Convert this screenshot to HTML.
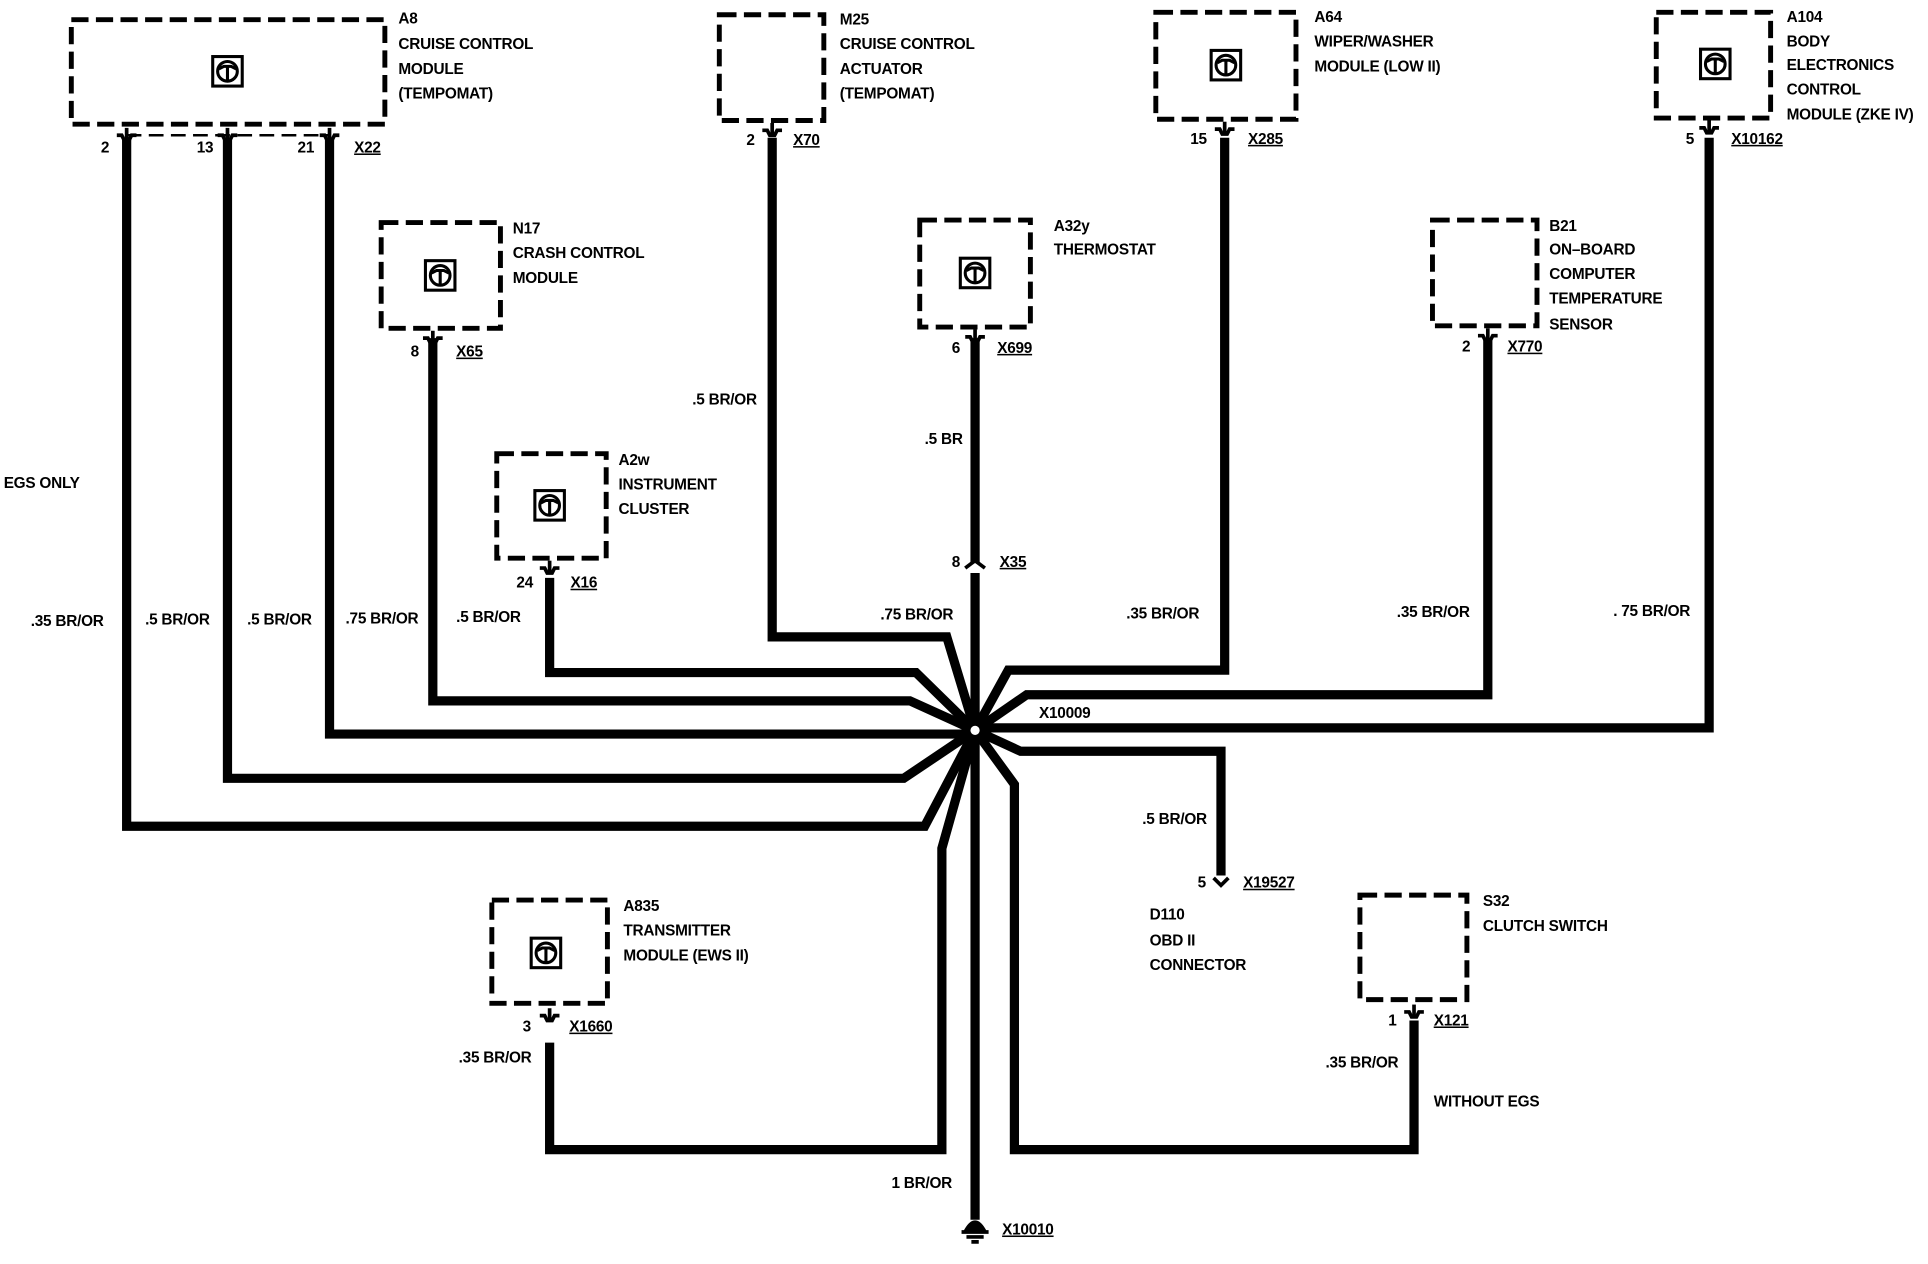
<!DOCTYPE html>
<html><head><meta charset="utf-8"><style>
html,body{margin:0;padding:0;background:#fff;}
svg{display:block;}
text{font-family:"Liberation Sans",Arial,sans-serif;font-size:12.5px;fill:#000;font-weight:bold;letter-spacing:-0.2px;}
</style></head><body>
<svg width="1928" height="1264" viewBox="0 0 1568 1028" preserveAspectRatio="none" xmlns="http://www.w3.org/2000/svg">
<defs>
<g id="ic"><rect x="-12" y="-12" width="24" height="24" fill="none" stroke="#000" stroke-width="2.5"/><circle cx="0" cy="0" r="8" fill="none" stroke="#000" stroke-width="2.5"/><path d="M-7,-2 L-3,-4 L3,-4 L7,-2 M0,-4 L0,8" stroke="#000" stroke-width="2.5" fill="none"/></g>
<g id="pin"><path d="M-8,0 L-4,0 L-2,4 L2,4 L4,0 L8,0" stroke="#000" stroke-width="3" fill="none"/><path d="M0,-6 L0,4" stroke="#000" stroke-width="3"/></g>
</defs>
<g fill="none" stroke="#000" stroke-width="4" stroke-dasharray="14,6">
<rect x="58" y="16" width="255" height="85"/>
<rect x="585" y="12" width="85" height="86"/>
<rect x="940" y="10" width="114" height="87"/>
<rect x="1347" y="10" width="93" height="86"/>
<rect x="310" y="181" width="97" height="86"/>
<rect x="748" y="179" width="90" height="87"/>
<rect x="1165" y="179" width="85" height="86"/>
<rect x="404" y="369" width="89" height="85"/>
<rect x="400" y="732" width="94" height="84"/>
<rect x="1106" y="728" width="87" height="85"/>
</g>
<path d="M103,110 H268" stroke="#000" stroke-width="2" stroke-dasharray="12,6"/>
<use href="#ic" x="185" y="58"/><use href="#ic" x="997" y="53"/><use href="#ic" x="1395" y="52"/>
<use href="#ic" x="358" y="224"/><use href="#ic" x="793" y="222"/><use href="#ic" x="447" y="411"/><use href="#ic" x="444" y="775"/>
<g fill="none" stroke="#000" stroke-width="7.5" stroke-linejoin="miter">
<path d="M103,112 V672 H752 L793,594"/>
<path d="M185,112 V633 H735 L793,594"/>
<path d="M268,112 V597 H793"/>
<path d="M352,275 V570 H740 L793,594"/>
<path d="M447,470 V547 H745 L793,594"/>
<path d="M628,112 V518 H770 L793,594"/>
<path d="M793,275 V458 M793,466 V992"/>
<path d="M996,112 V545 H820 L793,594"/>
<path d="M1210,275 V565 H835 L793,594"/>
<path d="M1390,112 V592 H793"/>
<path d="M793,594 L830,611 H993 V712"/>
<path d="M793,594 L825,638 V935 H1150 V830"/>
<path d="M793,594 L766,690 V935 H447 V848"/>
</g>
<circle cx="793" cy="594" r="5" fill="#fff" stroke="#000" stroke-width="2.5"/>
<g>
<use href="#pin" x="103" y="110"/><use href="#pin" x="185" y="110"/><use href="#pin" x="268" y="110"/>
<use href="#pin" x="628" y="106"/><use href="#pin" x="996" y="105"/><use href="#pin" x="1390" y="104"/>
<use href="#pin" x="352" y="275"/><use href="#pin" x="793" y="274"/><use href="#pin" x="1210" y="273"/>
<use href="#pin" x="447" y="462"/><use href="#pin" x="447" y="826"/><use href="#pin" x="1150" y="823"/>
</g>
<path d="M785,462 L793,456 L801,462 M987,714 L993,720 L999,714" stroke="#000" stroke-width="3" fill="none"/>
<path d="M786,1000 Q793,988 800,1000 Z M782,1002 H804 M786,1006 H800 M790,1010 H796" stroke="#000" stroke-width="3" fill="#000"/>
<g>
<text x="324" y="19">A8</text><text x="324" y="40">CRUISE CONTROL</text><text x="324" y="60">MODULE</text><text x="324" y="80">(TEMPOMAT)</text>
<text x="82" y="124">2</text><text x="160" y="124">13</text><text x="242" y="124">21</text><text x="288" y="124" text-decoration="underline">X22</text>
<text x="683" y="20">M25</text><text x="683" y="40">CRUISE CONTROL</text><text x="683" y="60">ACTUATOR</text><text x="683" y="80">(TEMPOMAT)</text>
<text x="607" y="118">2</text><text x="645" y="118" text-decoration="underline">X70</text>
<text x="1069" y="18">A64</text><text x="1069" y="38">WIPER/WASHER</text><text x="1069" y="58">MODULE (LOW II)</text>
<text x="968" y="117">15</text><text x="1015" y="117" text-decoration="underline">X285</text>
<text x="1453" y="18">A104</text><text x="1453" y="38">BODY</text><text x="1453" y="57">ELECTRONICS</text><text x="1453" y="77">CONTROL</text><text x="1453" y="97">MODULE (ZKE IV)</text>
<text x="1371" y="117">5</text><text x="1408" y="117" text-decoration="underline">X10162</text>
<text x="417" y="190">N17</text><text x="417" y="210">CRASH CONTROL</text><text x="417" y="230">MODULE</text>
<text x="334" y="290">8</text><text x="371" y="290" text-decoration="underline">X65</text>
<text x="857" y="188">A32y</text><text x="857" y="207">THERMOSTAT</text>
<text x="774" y="287">6</text><text x="811" y="287" text-decoration="underline">X699</text>
<text x="1260" y="188">B21</text><text x="1260" y="207">ON–BOARD</text><text x="1260" y="227">COMPUTER</text><text x="1260" y="247">TEMPERATURE</text><text x="1260" y="268">SENSOR</text>
<text x="1189" y="286">2</text><text x="1226" y="286" text-decoration="underline">X770</text>
<text x="503" y="378">A2w</text><text x="503" y="398">INSTRUMENT</text><text x="503" y="418">CLUSTER</text>
<text x="420" y="478">24</text><text x="464" y="478" text-decoration="underline">X16</text>
<text x="774" y="461">8</text><text x="813" y="461" text-decoration="underline">X35</text>
<text x="563" y="329">.5 BR/OR</text><text x="752" y="361">.5 BR</text>
<text x="3" y="397">EGS ONLY</text>
<text x="25" y="509">.35 BR/OR</text><text x="118" y="508">.5 BR/OR</text><text x="201" y="508">.5 BR/OR</text><text x="281" y="507">.75 BR/OR</text><text x="371" y="506">.5 BR/OR</text>
<text x="716" y="504">.75 BR/OR</text><text x="916" y="503">.35 BR/OR</text><text x="1136" y="502">.35 BR/OR</text><text x="1312" y="501">. 75 BR/OR</text>
<text x="845" y="584">X10009</text>
<text x="929" y="670">.5 BR/OR</text>
<text x="974" y="722">5</text><text x="1011" y="722" text-decoration="underline">X19527</text>
<text x="935" y="748">D110</text><text x="935" y="769">OBD II</text><text x="935" y="789">CONNECTOR</text>
<text x="507" y="741">A835</text><text x="507" y="761">TRANSMITTER</text><text x="507" y="781">MODULE (EWS II)</text>
<text x="425" y="839">3</text><text x="463" y="839" text-decoration="underline">X1660</text>
<text x="373" y="864">.35 BR/OR</text>
<text x="1206" y="737">S32</text><text x="1206" y="757">CLUTCH SWITCH</text>
<text x="1129" y="834">1</text><text x="1166" y="834" text-decoration="underline">X121</text>
<text x="1078" y="868">.35 BR/OR</text><text x="1166" y="900">WITHOUT EGS</text>
<text x="725" y="966">1 BR/OR</text><text x="815" y="1004" text-decoration="underline">X10010</text>
</g>
</svg>
</body></html>
